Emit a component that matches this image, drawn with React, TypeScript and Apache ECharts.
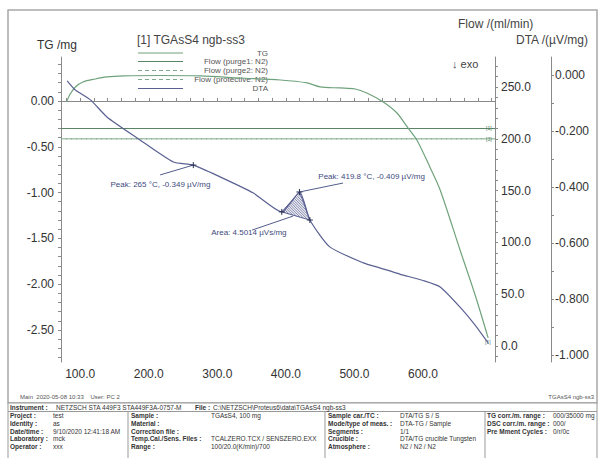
import React, { useEffect, useRef } from "react";
import * as echarts from "echarts";

// ---------- data ----------
const X_LABELS = [100, 200, 300, 400, 500, 600];
const TG_LABELS = [0, -0.5, -1.0, -1.5, -2.0, -2.5];
const FLOW_LABELS = [0, 50, 100, 150, 200, 250];
const DTA_LABELS = [0, -0.2, -0.4, -0.6, -0.8, -1.0];

const TG_T = [80, 85.4, 93, 104, 122, 139, 163, 217, 275, 333, 392, 431, 450, 479, 501, 518, 542, 562, 577, 591, 610, 625, 654, 676, 695];
const TG_V = [-0.011, 0.076, 0.153, 0.207, 0.24, 0.262, 0.273, 0.278, 0.273, 0.251, 0.229, 0.197, 0.153, 0.142, 0.131, 0.087, -0.011, -0.131, -0.284, -0.426, -0.721, -0.972, -1.627, -2.118, -2.587];

const DTA_T = [81, 93, 115, 139, 183, 236, 265, 304, 352, 394, 420, 435, 464, 513, 537, 566, 603, 625, 654, 676, 695];
const DTA_V = [-0.021, -0.054, -0.089, -0.15, -0.225, -0.311, -0.322, -0.364, -0.421, -0.489, -0.418, -0.518, -0.614, -0.671, -0.689, -0.711, -0.736, -0.757, -0.829, -0.893, -0.957];

const FLOW_T = [72, 705];
const FLOW_PURGE1 = [210, 210];
const FLOW_PURGE2 = [200, 200];
const FLOW_PROTECTIVE = [200, 200];

// integration area (DTA points from 394 to 435 °C)
const AREA_T = [394, 420, 435];
const AREA_V = [-0.489, -0.418, -0.518];

const MARK_T = [265, 394, 419.8, 435];
const MARK_V = [-0.322, -0.489, -0.418, -0.518];

const LABELS = ["Peak: 265 °C, -0.349 µV/mg", "Area: 4.5014 µVs/mg", "Peak: 419.8 °C, -0.409 µV/mg"];
// leader start / end and text centre, in data coords (T, DTA)
const LABEL_FROM = [[265, -0.322], [410.5, -0.504], [419.8, -0.418]];
const LABEL_TO = [[216.6, -0.357], [350.7, -0.554], [483.4, -0.386]];
const LABEL_AT = [[217, -0.393], [346, -0.564], [525, -0.361]];

const LEGEND_NAMES = ["TG", "Flow (purge1: N2)", "Flow (purge2: N2)", "Flow (protective: N2)", "DTA"];

const TABLE_COLS = [
  { labels: ["Project :", "Identity :", "Date/time :", "Laboratory :", "Operator :"], values: ["test", "as", "9/10/2020 12:41:18 AM", "mck", "xxx"] },
  { labels: ["Sample :", "Material :", "Correction file :", "Temp.Cal./Sens. Files :", "Range :"], values: ["TGAsS4, 100 mg", "", "", "TCALZERO.TCX / SENSZERO.EXX", "100/20.0(K/min)/700"] },
  { labels: ["Sample car./TC :", "Mode/type of meas. :", "Segments :", "Crucible :", "Atmosphere :"], values: ["DTA/TG S / S", "DTA-TG / Sample", "1/1", "DTA/TG crucible Tungsten", "N2 / N2 / N2"] },
  { labels: ["TG corr./m. range :", "DSC corr./m. range :", "Pre Mment Cycles :"], values: ["000/35000 mg", "000/", "0/r/0c"] },
];

// ---------- styles ----------
const FONT = "Liberation Sans, Arial, sans-serif";
const TG_COLOR = "#6fa27c";
const DTA_COLOR = "#5a6192";
const FLOW_SOLID = "#5a8466";
const FLOW_DASH = "#7ea98a";
const AXIS_COLOR = "#8a8a8a";
const TEXT = "#333";
const ANN = "#3e4a7e";

const range = (a: number, b: number, s: number) => {
  const r: number[] = [];
  for (let v = a; v <= b + 1e-9; v += s) r.push(Math.round(v * 1000) / 1000);
  return r;
};

function txt(text: string, x: number, y: number, size: number, opts: any = {}) {
  return {
    type: "text",
    x,
    y,
    silent: true,
    style: {
      text,
      fontSize: size,
      fontFamily: FONT,
      fill: opts.fill || TEXT,
      fontWeight: opts.bold ? "bold" : "normal",
      align: opts.align || "left",
      textAlign: opts.align || "left",
      verticalAlign: "middle",
      textVerticalAlign: "middle",
    },
  };
}
function ln(x1: number, y1: number, x2: number, y2: number, stroke: string, w = 1, dash?: number[]) {
  return { type: "line", silent: true, shape: { x1, y1, x2, y2 }, style: { stroke, lineWidth: w, lineDash: dash } };
}

function hatch(pts: number[][], spacing: number) {
  const vals = pts.map((p) => p[1] - p[0]);
  const cmin = Math.min(...vals);
  const cmax = Math.max(...vals);
  const out: any[] = [];
  for (let c = cmin + spacing / 2; c < cmax; c += spacing) {
    const hits: number[][] = [];
    for (let k = 0; k < pts.length; k++) {
      const P = pts[k];
      const Q = pts[(k + 1) % pts.length];
      const fp = P[1] - P[0] - c;
      const fq = Q[1] - Q[0] - c;
      if ((fp <= 0 && fq > 0) || (fp > 0 && fq <= 0)) {
        const s = fp / (fp - fq);
        hits.push([P[0] + s * (Q[0] - P[0]), P[1] + s * (Q[1] - P[1])]);
      }
    }
    if (hits.length >= 2) {
      out.push({ type: "line", shape: { x1: hits[0][0], y1: hits[0][1], x2: hits[1][0], y2: hits[1][1] }, style: { stroke: DTA_COLOR, lineWidth: 0.7 } });
    }
  }
  return out;
}

function buildGraphic() {
  const g: any[] = [];
  const TS = 6.5;
  // outer frame
  g.push({ type: "rect", silent: true, shape: { x: 8, y: 10, width: 589, height: 393 }, style: { fill: "none", stroke: "#a8a8a8", lineWidth: 1.5 } });
  // axis titles
  g.push(txt("TG /mg", 37, 45, 12));
  g.push(txt("[1] TGAsS4 ngb-ss3", 137, 40, 12, { fill: "#444" }));
  g.push(txt("Flow /(ml/min)", 458, 24, 12, { fill: "#444" }));
  g.push(txt("DTA /(µV/mg)", 588, 40, 12, { align: "right", fill: "#444" }));
  g.push(txt("↓ exo", 452, 64, 11, { fill: "#444" }));
  // legend
  const rows = [53, 61.5, 70.5, 79.5, 88.5];
  const lcol = [TG_COLOR, FLOW_SOLID, FLOW_DASH, FLOW_DASH, DTA_COLOR];
  const ldash = [undefined, undefined, [4, 3], [4, 3], undefined];
  LEGEND_NAMES.forEach((n, i) => {
    g.push(ln(138, rows[i], 183, rows[i], lcol[i], 1, ldash[i] as any));
    g.push(txt(n, 268, rows[i], 8, { align: "right", fill: "#555" }));
  });
  // flow end tags
  g.push(txt("[1]", 486, 128, 5, { fill: "#4a7a5a" }));
  g.push(txt("[3]", 486, 139, 5, { fill: "#4a7a5a" }));
  g.push(txt("[1]", 485, 342, 5, { fill: "#4a7a7a" }));
  // footer
  g.push(txt("Main  2020-05-08 10:33    User: PC 2", 20, 397, 6, { fill: "#555" }));
  g.push(txt("TGAsS4 ngb-ss3", 594, 397, 6, { align: "right", fill: "#555" }));
  // table
  g.push({ type: "rect", silent: true, shape: { x: 8, y: 403, width: 589, height: 60 }, style: { fill: "#fff", stroke: "#999", lineWidth: 1 } });
  g.push(ln(8, 411.5, 597, 411.5, "#999", 1));
  [128, 325, 485].forEach((x) => g.push(ln(x, 411.5, x, 458, "#999", 1)));
  g.push(txt("Instrument :", 10, 407.5, TS, { bold: true }));
  g.push(txt("NETZSCH STA 449F3 STA449F3A-0757-M", 56, 407.5, TS));
  g.push(txt("File :", 195, 407.5, TS, { bold: true }));
  g.push(txt("C:\\NETZSCH\\Proteus6\\data\\TGAsS4 ngb-ss3", 213, 407.5, TS));
  const colX = [10, 131, 328, 487];
  const valX = [53, 211, 400, 553];
  TABLE_COLS.forEach((col, c) => {
    col.labels.forEach((l, r) => {
      const y = 415.5 + r * 7.8;
      g.push(txt(l, colX[c], y, TS, { bold: true }));
      if (col.values[r]) g.push(txt(col.values[r], valX[c], y, TS));
    });
  });
  return g;
}

export default function App() {
  const ref = useRef<HTMLDivElement>(null);
  useEffect(() => {
    if (!ref.current) return;
    const chart = echarts.init(ref.current, undefined, { renderer: "svg" });
    const axisLine = { show: true, lineStyle: { color: AXIS_COLOR, width: 1 } };
    const label = (digits: number, vals: number[], margin: number) => ({
      customValues: vals,
      formatter: (v: number) => v.toFixed(digits),
      fontSize: 12,
      color: TEXT,
      fontFamily: FONT,
      margin,
    });
    const option: any = {
      animation: false,
      backgroundColor: "#fff",
      textStyle: { fontFamily: FONT },
      grid: { left: 61, right: 106, top: 57, bottom: 96, containLabel: false },
      xAxis: {
        type: "value",
        min: 72,
        max: 705,
        axisLine,
        axisTick: { show: true, inside: true, length: 3, customValues: range(80, 700, 20), lineStyle: { color: AXIS_COLOR } },
        axisLabel: label(1, X_LABELS, 6),
        splitLine: { show: false },
      },
      yAxis: [
        {
          type: "value",
          position: "left",
          min: -2.85,
          max: 0.48,
          axisLine,
          axisTick: { show: true, length: 3, customValues: range(-2.8, 0.4, 0.1), lineStyle: { color: AXIS_COLOR } },
          axisLabel: label(2, TG_LABELS, 7),
          splitLine: { show: false },
        },
        {
          type: "value",
          position: "right",
          offset: 0,
          min: -15.4,
          max: 279,
          axisLine,
          axisTick: { show: true, length: 3, customValues: range(-10, 270, 10), lineStyle: { color: AXIS_COLOR } },
          axisLabel: label(1, FLOW_LABELS, 6),
          splitLine: { show: false },
        },
        {
          type: "value",
          position: "right",
          offset: 56,
          min: -1.025,
          max: 0.064,
          axisLine,
          axisTick: { show: true, length: 3, customValues: range(-1.0, 0.0, 0.1), lineStyle: { color: AXIS_COLOR } },
          axisLabel: label(3, DTA_LABELS, 4),
          splitLine: { show: false },
        },
      ],
      series: [
        {
          name: "Flow (purge1: N2)",
          type: "line",
          yAxisIndex: 1,
          showSymbol: false,
          data: FLOW_T.map((t, i) => [t, FLOW_PURGE1[i]]),
          lineStyle: { color: FLOW_SOLID, width: 1 },
        },
        {
          name: "Flow (purge2: N2)",
          type: "line",
          yAxisIndex: 1,
          showSymbol: false,
          data: FLOW_T.map((t, i) => [t, FLOW_PURGE2[i]]),
          lineStyle: { color: FLOW_DASH, width: 1, type: [6, 4] },
        },
        {
          name: "Flow (protective: N2)",
          type: "line",
          yAxisIndex: 1,
          showSymbol: false,
          data: FLOW_T.map((t, i) => [t, FLOW_PROTECTIVE[i]]),
          lineStyle: { color: FLOW_DASH, width: 1, type: [6, 4], dashOffset: 5 },
        },
        {
          name: "TG",
          type: "line",
          yAxisIndex: 0,
          showSymbol: false,
          smooth: 0.3,
          data: TG_T.map((t, i) => [t, TG_V[i]]),
          lineStyle: { color: TG_COLOR, width: 1.2 },
        },
        {
          name: "DTA",
          type: "line",
          yAxisIndex: 2,
          showSymbol: false,
          smooth: 0.2,
          data: DTA_T.map((t, i) => [t, DTA_V[i]]),
          lineStyle: { color: DTA_COLOR, width: 1.2 },
          z: 5,
        },
        {
          type: "custom",
          yAxisIndex: 2,
          data: [[AREA_T[0], AREA_V[0]]],
          z: 6,
          renderItem: (_p: any, api: any) => {
            const pts = AREA_T.map((t, i) => api.coord([t, AREA_V[i]]));
            return {
              type: "group",
              children: [
                { type: "polygon", shape: { points: pts }, style: { fill: "rgba(90,97,146,0.12)", stroke: DTA_COLOR, lineWidth: 1 } },
                ...hatch(pts, 2.6),
              ],
            };
          },
        },
        {
          type: "custom",
          yAxisIndex: 2,
          data: MARK_T.map((t, i) => [t, MARK_V[i]]),
          z: 7,
          renderItem: (_p: any, api: any) => {
            const p = api.coord([api.value(0), api.value(1)]);
            const s = 3;
            return {
              type: "group",
              children: [
                { type: "line", shape: { x1: p[0] - s, y1: p[1], x2: p[0] + s, y2: p[1] }, style: { stroke: "#2a3050", lineWidth: 1 } },
                { type: "line", shape: { x1: p[0], y1: p[1] - s, x2: p[0], y2: p[1] + s }, style: { stroke: "#2a3050", lineWidth: 1 } },
              ],
            };
          },
        },
        {
          type: "custom",
          yAxisIndex: 2,
          data: LABELS.map((_l, i) => [LABEL_AT[i][0], LABEL_AT[i][1]]),
          z: 8,
          renderItem: (params: any, api: any) => {
            const i = params.dataIndex;
            const a = api.coord(LABEL_FROM[i]);
            const b = api.coord(LABEL_TO[i]);
            const c = api.coord(LABEL_AT[i]);
            return {
              type: "group",
              children: [
                { type: "line", shape: { x1: a[0], y1: a[1], x2: b[0], y2: b[1] }, style: { stroke: ANN, lineWidth: 0.9 } },
                {
                  type: "text",
                  x: c[0],
                  y: c[1],
                  style: { text: LABELS[i], fontSize: 8, fontFamily: FONT, fill: ANN, align: "center", verticalAlign: "middle" },
                },
              ],
            };
          },
        },
      ],
      graphic: buildGraphic(),
    };
    chart.setOption(option);
    return () => chart.dispose();
  }, []);
  return <div ref={ref} style={{ position: "absolute", left: 0, top: 0, width: 601, height: 458, background: "#fff" }} />;
}
